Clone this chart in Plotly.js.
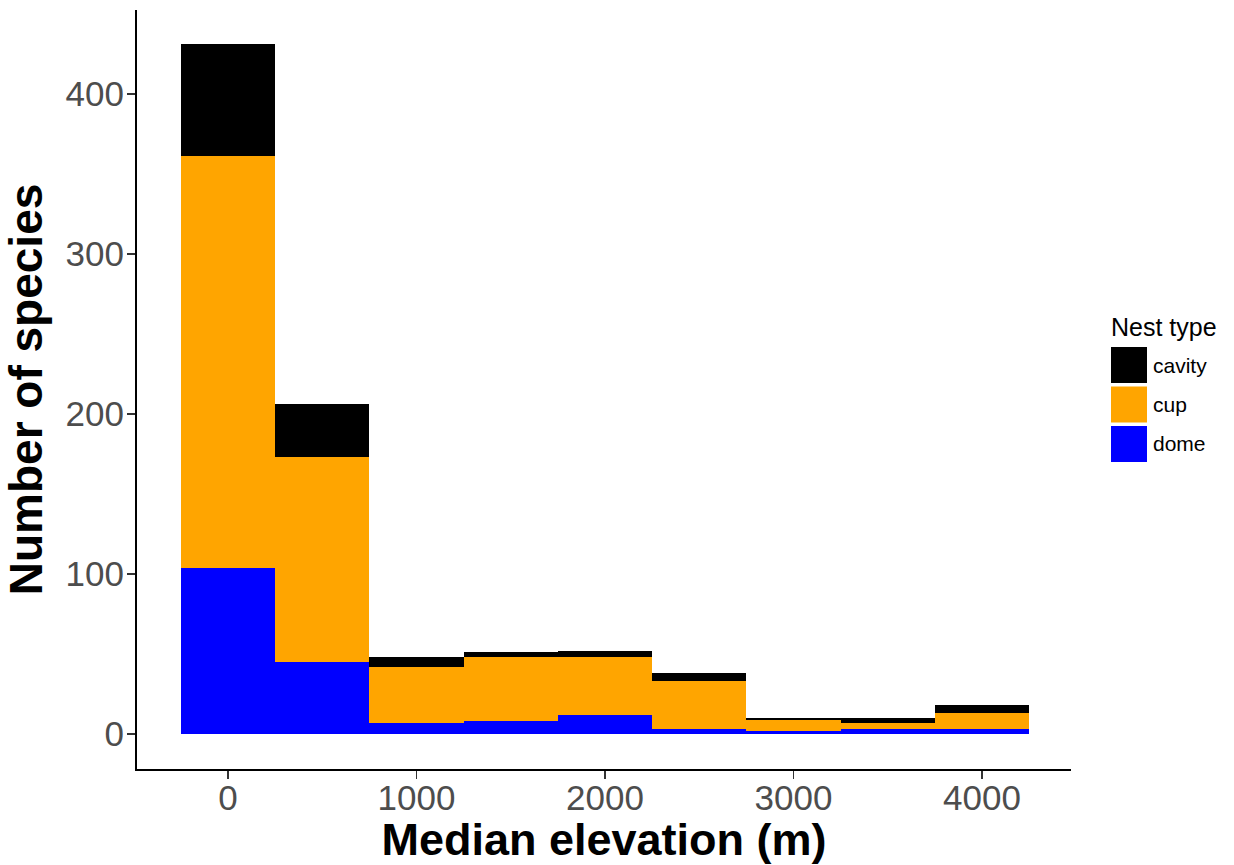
<!DOCTYPE html>
<html>
<head>
<meta charset="utf-8">
<script src="https://cdn.plot.ly/plotly-3.0.1.min.js"></script>
<style>body{margin:0;background:#fff;}#chart{width:1234px;height:865px;}</style>
</head>
<body>
<div id="chart"></div>
<script>
const binCenters = [0, 500, 1000, 1500, 2000, 2500, 3000, 3500, 4000];
const domeCounts = [104, 45, 7, 8, 12, 3, 2, 3, 3];
const cupCounts = [257, 128, 35, 40, 36, 30, 7, 4, 10];
const cavityCounts = [70, 33, 6, 3, 4, 5, 1, 3, 5];
const nestTypes = ["cavity", "cup", "dome"];
const nestColors = {cavity: "#000000", cup: "#FFA500", dome: "#0000FF"};
const xTicks = [0, 1000, 2000, 3000, 4000];
const yTicks = [0, 100, 200, 300, 400];

const font = "Liberation Sans, Arial, Helvetica, sans-serif";
const mk = (name, y) => ({
  type: "bar", x: binCenters, y: y, name: name, width: 500,
  marker: {color: nestColors[name], line: {width: 0}}, showlegend: false,
  hoverinfo: "x+y+name"
});
const data = [mk("dome", domeCounts), mk("cup", cupCounts), mk("cavity", cavityCounts)];

// legend drawn as shapes/annotations (large keys like ggplot2)
const px2x = p => (p - 137) / 934;
const px2y = p => (769 - p) / 759;
const shapes = [];
const annotations = [{
  xref: "paper", yref: "paper", x: px2x(1109), y: px2y(327), xanchor: "left", yanchor: "middle",
  text: "Nest type", showarrow: false, font: {family: font, size: 25, color: "#000"}
}];
nestTypes.forEach((n, i) => {
  const yc = 365 + i * 39.5;
  shapes.push({type: "rect", xref: "paper", yref: "paper", layer: "above",
    x0: px2x(1111), x1: px2x(1147),
    y0: px2y(yc + 18), y1: px2y(yc - 18),
    fillcolor: nestColors[n], line: {width: 0}});
  annotations.push({xref: "paper", yref: "paper", x: px2x(1151), y: px2y(yc),
    xanchor: "left", yanchor: "middle", text: n, showarrow: false,
    font: {family: font, size: 21, color: "#000"}});
});

const layout = {
  width: 1234, height: 865,
  margin: {l: 137, r: 163, t: 10, b: 96},
  paper_bgcolor: "#fff", plot_bgcolor: "#fff",
  barmode: "stack", bargap: 0,
  showlegend: false,
  xaxis: {
    range: [-483, 4472], tickvals: xTicks, ticktext: xTicks.map(String),
    showgrid: false, zeroline: false, showline: true, linecolor: "#000", linewidth: 2,
    ticks: "outside", ticklen: 8, tickwidth: 1.5, tickcolor: "#333",
    ticklabelstandoff: -11,
    tickfont: {family: font, size: 35, color: "#4D4D4D"},
    title: {text: "<b>Median elevation (m)</b>", font: {family: font, size: 45, color: "#000"}, standoff: 4}
  },
  yaxis: {
    range: [-21.9, 452.5], tickvals: yTicks, ticktext: yTicks.map(String),
    showgrid: false, zeroline: false, showline: true, linecolor: "#000", linewidth: 2,
    ticks: "outside", ticklen: 8, tickwidth: 1.5, tickcolor: "#333",
    ticklabelstandoff: -4,
    tickfont: {family: font, size: 35, color: "#4D4D4D"},
    title: {text: "<b>Number of species</b>", font: {family: font, size: 46, color: "#000"}, standoff: 10}
  },
  shapes: shapes,
  annotations: annotations
};
Plotly.newPlot("chart", data, layout, {displayModeBar: false, staticPlot: true});
</script>
</body>
</html>
